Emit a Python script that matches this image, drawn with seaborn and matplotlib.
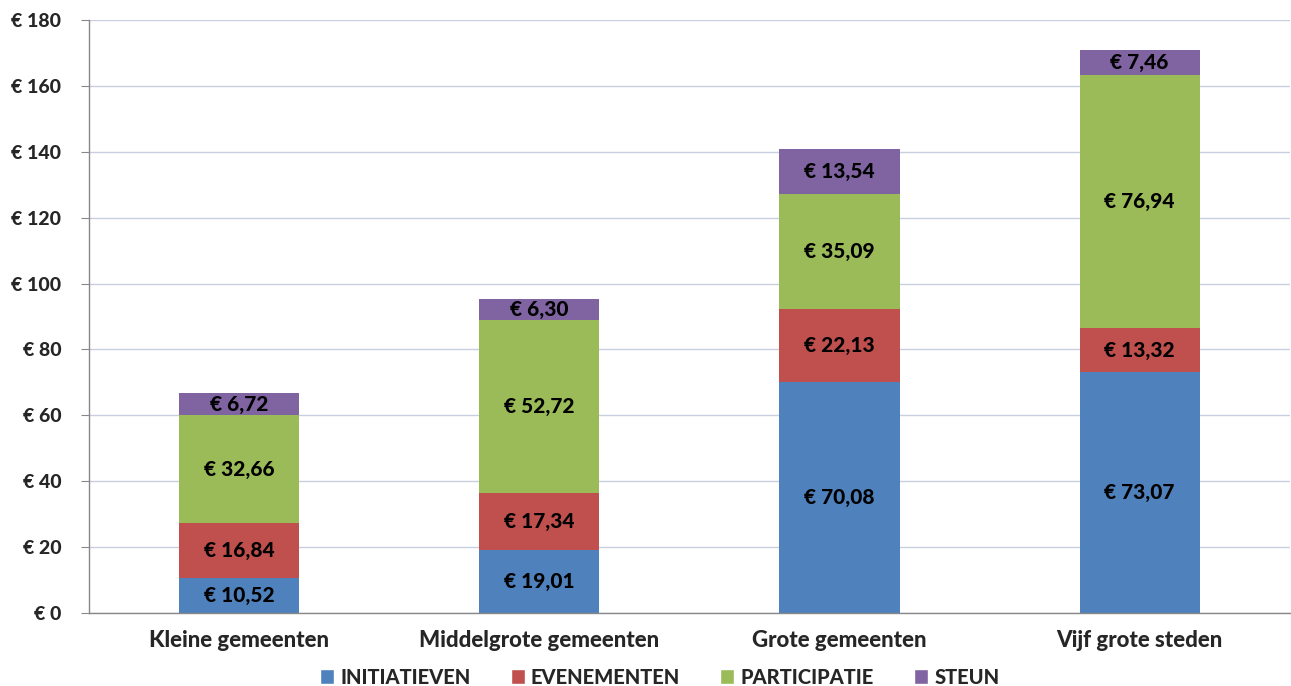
import matplotlib
matplotlib.use("Agg")
import matplotlib.pyplot as plt
import seaborn as sns
import numpy as np
import pandas as pd
from matplotlib.patches import Patch

categories = ["Kleine gemeenten", "Middelgrote gemeenten", "Grote gemeenten", "Vijf grote steden"]
series_names = ["INITIATIEVEN", "EVENEMENTEN", "PARTICIPATIE", "STEUN"]
initiatieven = [10.52, 19.01, 70.08, 73.07]
evenementen = [16.84, 17.34, 22.13, 13.32]
participatie = [32.66, 52.72, 35.09, 76.94]
steun = [6.72, 6.30, 13.54, 7.46]
y_ticks = [0, 20, 40, 60, 80, 100, 120, 140, 160, 180]
colors = ["#4F81BD", "#C0504D", "#9BBB59", "#8064A2"]

sns.set_style("white")
plt.rcParams['font.family'] = ['Lato', 'DejaVu Sans']
W = 900

fig = plt.figure(figsize=(12.91, 6.86), dpi=100)
ax = fig.add_axes([0.069, 0.1064, 0.930, 0.8644])

values = [initiatieven, evenementen, participatie, steun]
bottom = np.zeros(len(categories))
for name, vals, col in zip(series_names, values, colors):
    df = pd.DataFrame({"cat": categories, "val": vals})
    sns.barplot(data=df, x="cat", y="val", order=categories, color=col,
                bottom=bottom, width=0.4, ax=ax, saturation=1, edgecolor="none")
    for i, v in enumerate(vals):
        ax.text(i, bottom[i] + v / 2, f"€ {v:.2f}".replace(".", ","),
                ha="center", va="center", fontsize=15, fontweight=W, color="black")
    bottom = bottom + np.array(vals)

ax.set_ylim(0, 180)
ax.set_xlim(-0.5, 3.5)
ax.set_yticks(y_ticks)
ax.set_yticklabels([f"€ {t}" for t in y_ticks], fontsize=14, fontweight=W)
ax.set_xticks(range(len(categories)))
ax.set_xticklabels(categories, fontsize=16, fontweight=W)
ax.set_xticks(np.arange(-0.5, 4, 1), minor=True)
ax.tick_params(axis="x", which="major", length=0, pad=12)
ax.tick_params(axis="x", which="minor", length=6, color="#888888", direction="out")
ax.tick_params(axis="y", length=6, color="#888888", direction="out", left=True, pad=14)
ax.set_xlabel("")
ax.set_ylabel("")
ax.yaxis.grid(True, color="#C8D0E0", linewidth=1)
ax.set_axisbelow(True)
for s in ["top", "right"]:
    ax.spines[s].set_visible(False)
for s in ["left", "bottom"]:
    ax.spines[s].set_color("#888888")
    ax.spines[s].set_linewidth(1)

handles = [Patch(facecolor=c, label=n) for c, n in zip(colors, series_names)]
leg = fig.legend(handles=handles, loc="center", bbox_to_anchor=(0.511, 0.013), ncol=4,
                 frameon=False, prop={"weight": W, "size": 14.5},
                 handlelength=0.7, handleheight=0.7, handletextpad=0.3, columnspacing=2.0)

fig.savefig("out.png", dpi=100)
